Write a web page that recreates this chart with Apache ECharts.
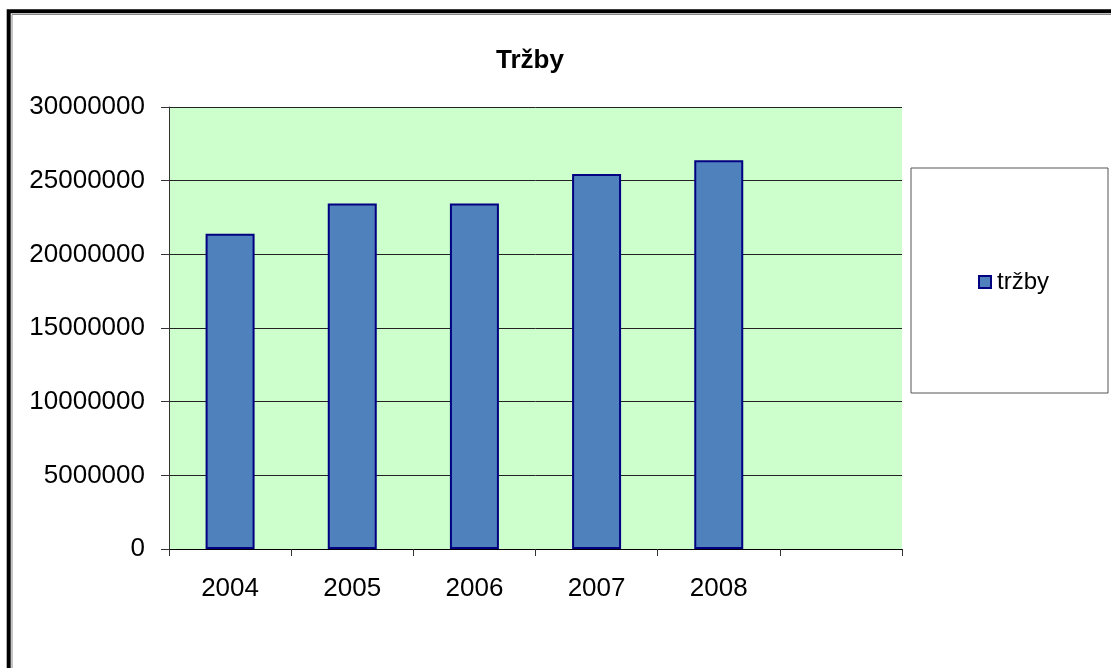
<!DOCTYPE html>
<html>
<head>
<meta charset="utf-8">
<script src="https://cdn.jsdelivr.net/npm/echarts@6/dist/echarts.min.js"></script>
<style>
  html, body { margin: 0; padding: 0; background: #fff; }
  #main { width: 1111px; height: 668px; }
</style>
</head>
<body>
<div id="main"></div>
<script>
// data
var years = ['2004', '2005', '2006', '2007', '2008', ''];
var trzby = [21400000, 23450000, 23450000, 25450000, 26380000, null];
var seriesName = 'tržby';
var chartTitle = 'Tržby';

var font = 'Liberation Sans, Arial, sans-serif';
var chartDom = document.getElementById('main');
var myChart = echarts.init(chartDom);
var option = {
  backgroundColor: '#fff',
  animation: false,
  title: {
    text: chartTitle,
    left: 525,
    textAlign: 'center',
    top: 43,
    textStyle: { fontFamily: font, fontSize: 26, fontWeight: 'bold', color: '#000' }
  },
  grid: {
    show: true,
    left: 169,
    top: 107,
    right: 209,
    bottom: 119,
    backgroundColor: '#CCFFCC',
    borderWidth: 0
  },
  legend: {
    data: [seriesName],
    left: 978,
    top: 270,
    padding: 0,
    icon: 'rect',
    itemWidth: 12,
    itemHeight: 12,
    itemGap: 5,
    textStyle: { fontFamily: font, fontSize: 24, color: '#000', padding: [0, 0, 0, 1] }
  },
  xAxis: {
    type: 'category',
    data: years,
    axisLine: { lineStyle: { color: '#000', width: 1 } },
    axisTick: { show: true, length: 7, lineStyle: { color: '#333' } },
    axisLabel: { margin: 27, fontFamily: font, fontSize: 26, color: '#000' }
  },
  yAxis: {
    type: 'value',
    min: 0,
    max: 30000000,
    interval: 5000000,
    axisLine: { show: true, lineStyle: { color: '#333', width: 1 } },
    axisTick: { show: true, length: 8, lineStyle: { color: '#333' } },
    axisLabel: {
      margin: 24,
      fontFamily: font,
      fontSize: 26,
      color: '#000',
      formatter: function (v) { return String(v); }
    },
    splitLine: { lineStyle: { color: '#222', width: 1 } }
  },
  series: [
    {
      name: seriesName,
      type: 'bar',
      data: trzby,
      barWidth: 49,
      itemStyle: { color: '#4F81BD', borderColor: '#000080', borderWidth: 2 }
    }
  ],
  graphic: [
    {
      type: 'rect',
      shape: { x: 911, y: 168, width: 197, height: 225 },
      style: { fill: '#fff', stroke: '#555', lineWidth: 1 },
      z: -1
    },
    {
      type: 'polyline',
      shape: { points: [[8.7, 700], [8.7, 11.3], [1120, 11.3]] },
      style: { stroke: '#000', lineWidth: 4, fill: null }
    },
    {
      type: 'polyline',
      shape: { points: [[12, 700], [12, 14.5], [1120, 14.5]] },
      style: { stroke: '#888', lineWidth: 1, fill: null }
    }
  ]
};
myChart.setOption(option);
</script>
</body>
</html>
